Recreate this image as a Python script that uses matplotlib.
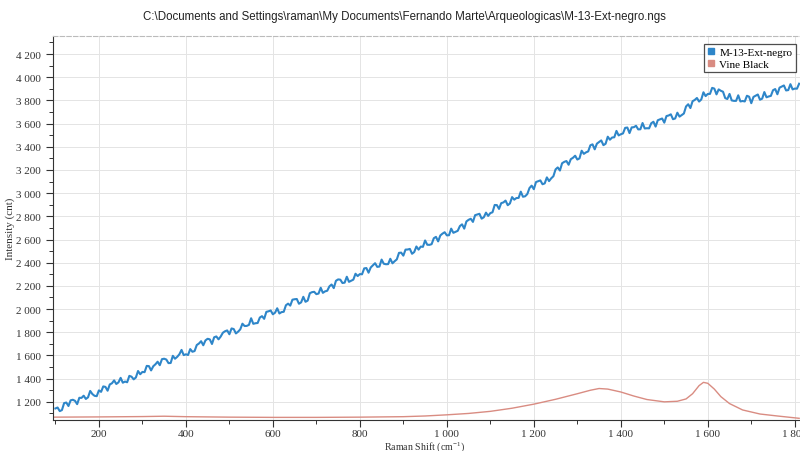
import numpy as np
import matplotlib
matplotlib.use("Agg")
import matplotlib.pyplot as plt
from matplotlib.ticker import MultipleLocator, FuncFormatter

# Raman spectra
# sample trace: counts at 100, 110, ... cm-1 and at the in-between points 105, 115, ...
shift_start, shift_step = 100, 10
sample_cnt = [
    1143, 1120, 1189, 1164, 1218, 1180, 1234, 1225, 1294, 1252,
    1299, 1333, 1296, 1360, 1354, 1407, 1375, 1424, 1394, 1466,
    1458, 1510, 1471, 1524, 1516, 1572, 1534, 1597, 1588, 1648,
    1610, 1655, 1638, 1703, 1688, 1744, 1699, 1764, 1763, 1809,
    1783, 1828, 1805, 1874, 1855, 1921, 1878, 1927, 1916, 1981,
    1955, 2007, 1974, 2033, 2030, 2085, 2046, 2106, 2073, 2146,
    2129, 2184, 2153, 2196, 2181, 2256, 2225, 2279, 2244, 2305,
    2302, 2351, 2314, 2377, 2364, 2427, 2387, 2434, 2413, 2485,
    2461, 2514, 2477, 2540, 2539, 2592, 2554, 2611, 2584, 2651,
    2636, 2694, 2666, 2716, 2694, 2770, 2752, 2816, 2780, 2832,
    2828, 2898, 2864, 2920, 2896, 2966, 2958, 3013, 2973, 3044,
    3034, 3103, 3077, 3136, 3128, 3205, 3195, 3270, 3245, 3305,
    3290, 3366, 3352, 3413, 3378, 3441, 3414, 3487, 3480, 3537,
    3508, 3563, 3518, 3569, 3550, 3605, 3560, 3603, 3574, 3637,
    3608, 3670, 3638, 3694, 3674, 3748, 3734, 3804, 3790, 3870,
    3856, 3908, 3852, 3883, 3820, 3856, 3796, 3844, 3795, 3840,
    3776, 3840, 3806, 3872, 3834, 3888, 3853, 3920, 3886, 3940,
    3902, 3944,
]
sample_cnt_mid = [
    1151, 1129, 1194, 1213, 1209, 1235, 1253, 1239, 1267, 1249,
    1286, 1329, 1350, 1385, 1368, 1365, 1369, 1417, 1410, 1438,
    1456, 1508, 1507, 1546, 1568, 1565, 1535, 1572, 1610, 1603,
    1604, 1632, 1690, 1723, 1730, 1739, 1757, 1739, 1796, 1816,
    1833, 1790, 1825, 1854, 1864, 1873, 1880, 1939, 1976, 1988,
    1969, 1962, 1977, 2047, 2081, 2087, 2058, 2063, 2137, 2149,
    2134, 2140, 2158, 2212, 2244, 2254, 2228, 2235, 2254, 2285,
    2300, 2354, 2359, 2396, 2367, 2391, 2388, 2395, 2429, 2487,
    2513, 2519, 2492, 2513, 2537, 2555, 2560, 2623, 2635, 2663,
    2637, 2658, 2675, 2731, 2756, 2779, 2810, 2822, 2792, 2804,
    2835, 2897, 2914, 2936, 2911, 2944, 2959, 2969, 2992, 3065,
    3096, 3110, 3084, 3104, 3146, 3222, 3258, 3277, 3293, 3323,
    3300, 3339, 3360, 3421, 3427, 3455, 3426, 3461, 3482, 3498,
    3515, 3566, 3567, 3581, 3551, 3558, 3559, 3616, 3629, 3644,
    3665, 3680, 3644, 3660, 3687, 3767, 3793, 3821, 3808, 3837,
    3856, 3902, 3895, 3875, 3812, 3800, 3796, 3791, 3791, 3832,
    3830, 3851, 3815, 3827, 3839, 3898, 3910, 3929, 3889, 3895,
    3901,
]

ref_shift = [95, 200, 300, 350, 400, 500, 600, 700, 800, 900, 950, 1000, 1050,
             1100, 1150, 1200, 1250, 1300, 1330, 1350, 1370, 1400, 1430, 1460,
             1500, 1530, 1550, 1565, 1580, 1590, 1600, 1615, 1630, 1650, 1680,
             1720, 1760, 1810]
ref_cnt = [1068, 1070, 1073, 1076, 1072, 1068, 1066, 1066, 1068, 1072, 1078,
           1088, 1100, 1118, 1145, 1180, 1222, 1270, 1300, 1315, 1310, 1285,
           1250, 1220, 1200, 1205, 1225, 1270, 1340, 1368, 1360, 1310, 1245,
           1185, 1130, 1095, 1078, 1058]

labels = ["M-13-Ext-negro", "Vine Black"]
colors = ["#2e86c9", "#d98c82"]
title = r"C:\Documents and Settings\raman\My Documents\Fernando Marte\Arqueologicas\M-13-Ext-negro.ngs"

serif = "Liberation Serif"
plt.rcParams["mathtext.fontset"] = "custom"
plt.rcParams["mathtext.rm"] = serif
plt.rcParams["mathtext.it"] = serif + ":italic"

# merge the two sets of sample points in shift order
x_main = shift_start + shift_step * np.arange(len(sample_cnt))
x_mid = x_main[:len(sample_cnt_mid)] + shift_step / 2
sample_shift = np.concatenate([x_main, x_mid])
sample_all = np.concatenate([sample_cnt, sample_cnt_mid])
order = np.argsort(sample_shift)
sample_shift, sample_all = sample_shift[order], sample_all[order]

fig = plt.figure(figsize=(8, 4.52), dpi=100)
ax = fig.add_axes([0.066, 0.069, 0.934, 0.849])

ax.plot(sample_shift, sample_all, color=colors[0], lw=1.5, label=labels[0])
ax.plot(ref_shift, ref_cnt, color=colors[1], lw=1.0, label=labels[1])

ax.set_xlim(94, 1812)
ax.set_ylim(1045, 4355)

ax.xaxis.set_major_locator(MultipleLocator(200))
ax.xaxis.set_minor_locator(MultipleLocator(100))
ax.yaxis.set_major_locator(MultipleLocator(200))
ax.yaxis.set_minor_locator(MultipleLocator(100))
fmt = FuncFormatter(lambda v, p: f"{v:,.0f}".replace(",", " "))
ax.xaxis.set_major_formatter(fmt)
ax.yaxis.set_major_formatter(fmt)

ax.tick_params(which="major", direction="out", length=5, width=0.8,
               labelsize=8, colors="#333333")
ax.tick_params(axis="x", which="major", pad=1.5)
ax.tick_params(which="minor", direction="out", length=3, width=0.7, colors="#333333")
for lab in ax.get_xticklabels() + ax.get_yticklabels():
    lab.set_fontfamily(serif)

ax.grid(True, which="major", color="#e4e4e4", lw=0.7)
ax.set_axisbelow(True)

ax.spines["right"].set_visible(False)
ax.spines["top"].set_color("#bbbbbb")
ax.spines["top"].set_linestyle((0, (4, 2)))
ax.spines["left"].set_color("#333333")
ax.spines["bottom"].set_color("#333333")

ax.set_xlabel("Raman Shift (cm$^{-1}$)", fontfamily=serif, fontsize=7.2,
              color="#333333")
ax.set_ylabel("Intensity (cnt)", fontfamily=serif, fontsize=8,
              color="#333333")
ax.xaxis.set_label_coords(0.498, -0.049)
ax.yaxis.set_label_coords(-0.05, 0.5)

fig.text(0.505, 0.962, title, ha="center", va="center", fontsize=8.3,
         fontfamily="Liberation Sans", color="#222222")

leg = ax.legend(loc="upper right", bbox_to_anchor=(0.997, 0.985),
                handles=[plt.Line2D([], [], marker="s", ls="none", color=c,
                                    markersize=5) for c in colors],
                labels=labels, prop={"family": serif, "size": 8},
                frameon=True, fancybox=False, edgecolor="#222222",
                handletextpad=0.3, borderpad=0.3, labelspacing=0.15,
                handlelength=0.8, borderaxespad=0.2)
leg.get_frame().set_linewidth(0.9)

fig.savefig("out.png", dpi=100)
